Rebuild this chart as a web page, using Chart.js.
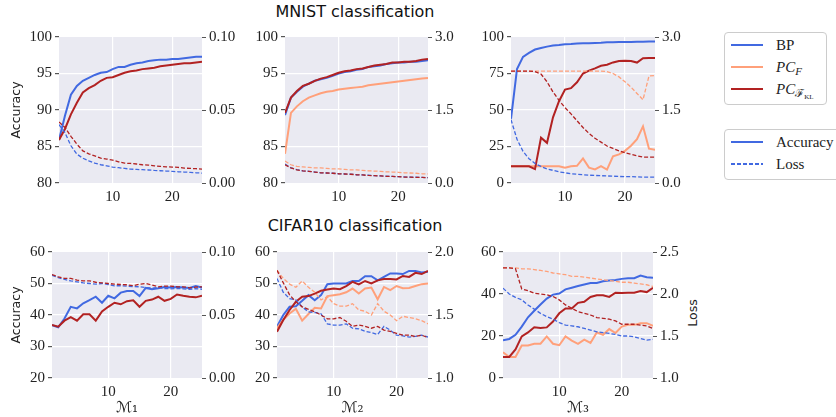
<!doctype html>
<html>
<head>
<meta charset="utf-8">
<title>MNIST / CIFAR10 classification</title>
<script src="https://cdn.jsdelivr.net/npm/chart.js@4.4.1/dist/chart.umd.min.js"></script>
<style>
  body { margin: 0; width: 836px; height: 417px; background: #fff; position: relative; overflow: hidden; }
  .plot { position: absolute; }
  .suptitle { position: absolute; font-family: "DejaVu Sans", sans-serif; font-size: 16px; line-height: 20px; color: #111; white-space: nowrap; transform: translateX(-50%); }
  .ylabel { position: absolute; font-family: "DejaVu Sans", sans-serif; font-size: 12.5px; color: #222; transform: translate(-50%, -50%) rotate(-90deg); white-space: nowrap; }
  .legend { position: absolute; border: 1px solid #ccc; border-radius: 4px; background: #fff; font-family: "Liberation Serif", serif; font-size: 15px; color: #222; }
  .row { position: absolute; left: 6px; height: 20px; white-space: nowrap; }
  .swatch { position: absolute; left: 0; width: 32px; top: 9px; height: 2px; }
  .dashed { height: 1.5px; background: repeating-linear-gradient(90deg, #4169e1 0 4px, rgba(0,0,0,0) 4px 6px); }
  .label { position: absolute; left: 45px; top: 1px; line-height: 18px; }
  .label sub { font-size: 11px; vertical-align: -3px; }
  .label sub sub { font-size: 7px; vertical-align: -2px; }
</style>
</head>
<body>
<div class="suptitle" style="left:355px;top:2px">MNIST classification</div>
<div class="suptitle" style="left:355px;top:216px">CIFAR10 classification</div>
<div class="ylabel" style="left:692px;top:313px">Loss</div>

<div class="legend" style="left:724px;top:32px;width:101px;height:71px">
  <div class="row" style="top:2px"><span class="swatch" style="background:#4169e1"></span><span class="label">BP</span></div>
  <div class="row" style="top:24px"><span class="swatch" style="background:#ffa07a"></span><span class="label"><i>PC</i><sub><i>F</i></sub></span></div>
  <div class="row" style="top:46px"><span class="swatch" style="background:#b22222"></span><span class="label"><i>PC</i><sub>ℱ<sub>KL</sub></sub></span></div>
</div>
<div class="legend" style="left:724px;top:129px;width:130px;height:49px">
  <div class="row" style="top:2px"><span class="swatch" style="background:#4169e1"></span><span class="label">Accuracy</span></div>
  <div class="row" style="top:24px"><span class="swatch dashed"></span><span class="label">Loss</span></div>
</div>

<script>
const epochs = [1, 2, 3, 4, 5, 6, 7, 8, 9, 10, 11, 12, 13, 14, 15, 16, 17, 18, 19, 20, 21, 22, 23, 24, 25];
const xTicks = [10, 20];

// MNIST, M1
const mnistAccBP1 = [85.9, 89.2, 92.1, 93.3, 94.0, 94.4, 94.8, 95.1, 95.2, 95.6, 95.9, 95.9, 96.2, 96.4, 96.5, 96.7, 96.8, 96.9, 96.9, 97.0, 97.0, 97.1, 97.2, 97.3, 97.3];
const mnistAccKL1 = [85.9, 87.4, 89.4, 91.0, 92.4, 93.0, 93.4, 94.0, 94.4, 94.5, 94.8, 95.1, 95.3, 95.4, 95.6, 95.7, 95.8, 96.0, 96.1, 96.2, 96.3, 96.4, 96.4, 96.5, 96.6];
const mnistLossBP1 = [0.040, 0.0345, 0.0255, 0.0198, 0.017, 0.0152, 0.0136, 0.0125, 0.0118, 0.0109, 0.0105, 0.0100, 0.0095, 0.0093, 0.0091, 0.0089, 0.0086, 0.0084, 0.0082, 0.0080, 0.0077, 0.0075, 0.0073, 0.0070, 0.0068];
const mnistLossKL1 = [0.0418, 0.038, 0.032, 0.0266, 0.022, 0.020, 0.0186, 0.017, 0.0164, 0.0157, 0.0145, 0.0136, 0.0134, 0.013, 0.0125, 0.0123, 0.0118, 0.0114, 0.0111, 0.0109, 0.0107, 0.0102, 0.0100, 0.0098, 0.0095];

// MNIST, M2
const mnistAccBP2 = [89.3, 91.7, 92.5, 93.2, 93.6, 94.0, 94.2, 94.4, 94.7, 95.0, 95.2, 95.3, 95.5, 95.6, 95.9, 96.0, 96.1, 96.3, 96.4, 96.5, 96.5, 96.6, 96.6, 96.7, 96.8];
const mnistAccF2 = [84.0, 89.6, 90.5, 91.2, 91.7, 92.0, 92.3, 92.5, 92.6, 92.8, 92.9, 93.0, 93.1, 93.2, 93.4, 93.5, 93.6, 93.7, 93.8, 93.9, 94.0, 94.1, 94.2, 94.3, 94.4];
const mnistAccKL2 = [89.6, 91.7, 92.6, 93.3, 93.6, 94.0, 94.3, 94.5, 94.8, 95.1, 95.3, 95.4, 95.6, 95.7, 95.9, 96.1, 96.2, 96.3, 96.5, 96.5, 96.6, 96.6, 96.7, 96.9, 97.0];
const mnistLossBP2 = [0.39, 0.31, 0.275, 0.25, 0.24, 0.225, 0.21, 0.205, 0.20, 0.19, 0.185, 0.18, 0.17, 0.165, 0.16, 0.15, 0.145, 0.14, 0.135, 0.13, 0.125, 0.12, 0.12, 0.115, 0.11];
const mnistLossF2 = [0.45, 0.375, 0.34, 0.33, 0.32, 0.31, 0.31, 0.30, 0.29, 0.29, 0.28, 0.27, 0.27, 0.26, 0.25, 0.245, 0.24, 0.23, 0.225, 0.22, 0.21, 0.205, 0.20, 0.19, 0.185];
const mnistLossKL2 = [0.375, 0.31, 0.27, 0.25, 0.24, 0.225, 0.21, 0.205, 0.20, 0.19, 0.185, 0.18, 0.17, 0.165, 0.155, 0.15, 0.145, 0.135, 0.135, 0.13, 0.12, 0.12, 0.115, 0.115, 0.11];

// MNIST, M3
const mnistAccBP3 = [44, 78, 86.4, 89.1, 91.4, 92.5, 93.4, 94.1, 94.5, 95.0, 95.2, 95.5, 95.7, 95.7, 95.9, 96.1, 96.4, 96.4, 96.6, 96.6, 96.6, 96.8, 96.8, 97.0, 97.0];
const mnistAccF3 = [11.4, 11.4, 11.4, 11.4, 11.4, 11.4, 11.4, 11.4, 11.4, 10.5, 11.4, 11.8, 16.8, 10.5, 9.3, 11.6, 9.2, 18.2, 19.6, 22, 25.5, 30, 38.8, 23.5, 22.8];
const mnistAccKL3 = [11.4, 11.4, 11.4, 11.4, 9.5, 31, 27.5, 45, 56, 64, 65, 69, 75, 77, 78.5, 80.3, 81, 82.6, 83.6, 83.8, 83.6, 82.5, 85.5, 85.6, 85.7];
const mnistLossBP3 = [1.30, 0.90, 0.65, 0.50, 0.40, 0.34, 0.29, 0.26, 0.23, 0.21, 0.19, 0.18, 0.17, 0.16, 0.155, 0.15, 0.145, 0.14, 0.135, 0.13, 0.13, 0.125, 0.12, 0.12, 0.12];
const mnistLossF3 = [2.30, 2.30, 2.30, 2.30, 2.30, 2.30, 2.30, 2.30, 2.30, 2.30, 2.30, 2.30, 2.30, 2.30, 2.30, 2.30, 2.29, 2.25, 2.18, 2.08, 1.97, 1.84, 1.71, 2.20, 2.21];
const mnistLossKL3 = [2.30, 2.30, 2.30, 2.30, 2.29, 2.24, 2.08, 1.87, 1.70, 1.55, 1.42, 1.28, 1.14, 1.02, 0.92, 0.84, 0.76, 0.71, 0.66, 0.62, 0.59, 0.56, 0.53, 0.53, 0.53];

// CIFAR10, M1
const cifarAccBP1 = [36.8, 36.1, 38.9, 42.6, 42.1, 43.7, 44.7, 45.8, 43.9, 46.1, 45.3, 47.1, 47.6, 47.6, 46.0, 48.6, 48.2, 48.5, 48.9, 48.7, 48.9, 48.7, 48.6, 49.2, 48.7];
const cifarAccKL1 = [36.8, 36.3, 38.2, 39.3, 38.2, 40.2, 40.2, 38.2, 41.1, 42.6, 43.9, 43.4, 44.4, 44.7, 42.6, 44.5, 44.9, 45.8, 44.5, 45.1, 46.5, 46.1, 45.8, 45.6, 46.1];
const cifarLossBP1 = [0.0816, 0.0797, 0.0782, 0.0771, 0.0763, 0.0755, 0.0750, 0.0745, 0.0750, 0.0742, 0.0732, 0.0732, 0.0729, 0.0726, 0.0724, 0.0718, 0.0713, 0.0718, 0.0710, 0.0708, 0.0710, 0.0708, 0.0703, 0.0710, 0.0703];
const cifarLossKL1 = [0.0821, 0.0803, 0.0790, 0.0790, 0.0776, 0.0771, 0.0771, 0.0760, 0.0755, 0.0750, 0.0745, 0.0742, 0.0740, 0.0732, 0.0745, 0.0750, 0.0737, 0.0724, 0.0729, 0.0729, 0.0724, 0.0724, 0.0716, 0.0721, 0.0724];

// CIFAR10, M2
const cifarAccBP2 = [36.3, 40, 42.6, 42.8, 44.5, 46.3, 44.7, 46.3, 49.8, 50, 50, 50, 50.8, 50.8, 52.3, 52.3, 51, 52.1, 53.2, 53.2, 53, 54, 54, 53.5, 53.7];
const cifarAccF2 = [35.8, 38.5, 40.5, 42, 38.2, 40.3, 42.3, 42.1, 46, 46.3, 46.6, 47.2, 48.4, 46.8, 48.4, 48.7, 45, 48.9, 47.9, 49.2, 48.5, 48.6, 49.2, 49.8, 50];
const cifarAccKL2 = [34.7, 38.4, 41.6, 44.2, 45.8, 46, 46.8, 47.7, 48.1, 48.4, 48.2, 49.2, 50.5, 49.7, 50.8, 50, 51, 51.4, 51.4, 51.3, 52.4, 52.1, 53.4, 53, 54];
const cifarLossBP2 = [1.79, 1.68, 1.63, 1.62, 1.565, 1.525, 1.52, 1.51, 1.43, 1.42, 1.42, 1.43, 1.395, 1.39, 1.37, 1.36, 1.345, 1.41, 1.38, 1.34, 1.335, 1.325, 1.33, 1.34, 1.325];
const cifarLossF2 = [1.855, 1.79, 1.745, 1.72, 1.77, 1.72, 1.68, 1.62, 1.645, 1.59, 1.57, 1.57, 1.59, 1.54, 1.53, 1.5, 1.59, 1.53, 1.5, 1.455, 1.49, 1.48, 1.47, 1.455, 1.43];
const cifarLossKL2 = [1.855, 1.755, 1.66, 1.605, 1.565, 1.545, 1.525, 1.5, 1.47, 1.47, 1.48, 1.45, 1.41, 1.42, 1.41, 1.395, 1.41, 1.38, 1.37, 1.355, 1.34, 1.34, 1.33, 1.34, 1.32];

// CIFAR10, M3
const cifarAccBP3 = [18, 18.6, 20.6, 24.5, 28.9, 32, 35, 37.8, 39.7, 40.2, 42.2, 43, 43.8, 44.5, 45.2, 45.2, 46.1, 46.4, 46.7, 47.2, 47.5, 47.5, 48.8, 48, 47.7];
const cifarAccF3 = [12.3, 10, 10, 15.5, 15.5, 16.3, 16.3, 19.8, 16.3, 15.6, 19.8, 17.8, 16.3, 18.3, 16.7, 21.7, 20.6, 23.3, 21.4, 24.5, 25.3, 25.3, 26.1, 26.1, 24.8];
const cifarAccKL3 = [10, 10, 13.6, 19.8, 21.7, 24.2, 23.8, 24.1, 26.9, 30.8, 33.1, 33.1, 35.8, 36.3, 38.6, 39.4, 39.4, 38.6, 40.6, 40.5, 40.6, 40.6, 41.4, 40.9, 43];
const cifarLossBP3 = [2.07, 2.0, 1.96, 1.93, 1.87, 1.82, 1.77, 1.73, 1.70, 1.66, 1.63, 1.62, 1.61, 1.59, 1.57, 1.55, 1.54, 1.53, 1.52, 1.50, 1.50, 1.49, 1.47, 1.45, 1.46];
const cifarLossF3 = [2.31, 2.31, 2.31, 2.30, 2.30, 2.29, 2.28, 2.27, 2.25, 2.24, 2.23, 2.21, 2.21, 2.20, 2.19, 2.18, 2.17, 2.16, 2.15, 2.14, 2.14, 2.13, 2.12, 2.11, 2.09];
const cifarLossKL3 = [2.31, 2.31, 2.30, 2.06, 2.04, 2.01, 2.0, 1.99, 1.97, 1.93, 1.87, 1.83, 1.79, 1.77, 1.75, 1.72, 1.71, 1.70, 1.68, 1.64, 1.64, 1.64, 1.63, 1.62, 1.59];

// axis tick values
const accTicksMnist = [80, 85, 90, 95, 100];
const accTicksMnist3 = [0, 25, 50, 75, 100];
const accTicksCifar = [20, 30, 40, 50, 60];
const accTicksCifar3 = [0, 20, 40, 60];
const lossTicksSmall = [0, 0.05, 0.10];
const lossTicksMnist = [0, 1.5, 3.0];
const lossTicksCifar2 = [1.0, 1.5, 2.0];
const lossTicksCifar3 = [1.0, 1.5, 2.0, 2.5];

const BLUE = '#4169e1', SALMON = '#ffa07a', RED = '#b22222';
const SERIF = "'Liberation Serif', serif";
const SANS = "'DejaVu Sans', sans-serif";

// seaborn-style grey plot background
const plotBg = {
  id: 'plotBg',
  beforeDraw(chart) {
    const a = chart.chartArea, ctx = chart.ctx;
    ctx.save();
    ctx.fillStyle = '#eaeaf2';
    ctx.fillRect(a.left, a.top, a.right - a.left, a.bottom - a.top);
    ctx.restore();
  }
};

function line(data, color, axis, dashed, order) {
  return {
    data, borderColor: color, backgroundColor: color, yAxisID: axis,
    borderWidth: dashed ? 1.3 : 2, borderDash: dashed ? [4, 2] : [],
    pointRadius: 0, tension: 0, fill: false, order
  };
}

function yAxis(pos, ticks, decimals, width, title) {
  const min = ticks[0], max = ticks[ticks.length - 1];
  return {
    type: 'linear', position: pos, min, max,
    afterBuildTicks: s => { s.ticks = ticks.map(v => ({ value: v })); },
    afterFit: s => { s.width = width; },
    border: { display: false },
    grid: pos === 'left'
      ? { color: c => (c.tick && (c.tick.value === min || c.tick.value === max)) ? 'rgba(0,0,0,0)' : '#fff', lineWidth: 1.2, tickColor: '#555', tickLength: 4 }
      : { drawOnChartArea: false, tickColor: '#555', tickLength: 4 },
    ticks: { color: '#222', font: { family: SERIF, size: 15 }, padding: 3, callback: v => Number(v).toFixed(decimals) },
    title: title ? { display: true, text: title, color: '#222', font: { family: SANS, size: 12.5 }, padding: { top: 9, bottom: 0 } } : { display: false }
  };
}

function makePlot(box, padTop, yLeftW, yRightW, xH, accSeries, lossSeries, accTicks, accDec, lossTicks, lossDec, ylabel, xlabel) {
  const wrap = document.createElement('div');
  wrap.className = 'plot';
  wrap.style.left = box[0] + 'px';
  wrap.style.top = box[1] + 'px';
  const canvas = document.createElement('canvas');
  canvas.width = box[2];
  canvas.height = box[3];
  wrap.appendChild(canvas);
  document.body.appendChild(wrap);

  const colors = [BLUE, SALMON, RED];
  const datasets = [];
  accSeries.forEach((d, i) => { if (d) datasets.push(line(d, colors[i], 'yAcc', false, 6 - i)); });
  lossSeries.forEach((d, i) => { if (d) datasets.push(line(d, colors[i], 'yLoss', true, 3 - i)); });

  new Chart(canvas, {
    type: 'line',
    data: { labels: epochs, datasets },
    options: {
      responsive: false,
      animation: false,
      events: [],
      layout: { autoPadding: false, padding: { top: padTop, left: 0, right: 0, bottom: 0 } },
      plugins: { legend: { display: false }, tooltip: { enabled: false } },
      scales: {
        x: {
          type: 'linear', min: 1, max: 25,
          afterBuildTicks: s => { s.ticks = xTicks.map(v => ({ value: v })); },
          afterFit: s => { s.height = xH; },
          border: { display: false },
          grid: { color: '#fff', lineWidth: 1.2, drawTicks: false },
          ticks: { color: '#222', font: { family: SERIF, size: 15 }, padding: 5, maxRotation: 0 },
          title: xlabel ? { display: true, text: xlabel, color: '#222', font: { family: "'DejaVu Serif', 'DejaVu Sans', serif", size: 15 }, padding: { top: 0, bottom: 0 } } : { display: false }
        },
        yAcc: yAxis('left', accTicks, accDec, yLeftW, ylabel),
        yLoss: yAxis('right', lossTicks, lossDec, yRightW, null)
      }
    },
    plugins: [plotBg]
  });
}

// top row: MNIST
makePlot([0, 25, 250, 180], 12, 59, 48, 22,
  [mnistAccBP1, null, mnistAccKL1], [mnistLossBP1, null, mnistLossKL1],
  accTicksMnist, 0, lossTicksSmall, 2, 'Accuracy', null);
makePlot([240, 25, 240, 180], 12, 45, 52, 22,
  [mnistAccBP2, mnistAccF2, mnistAccKL2], [mnistLossBP2, mnistLossF2, mnistLossKL2],
  accTicksMnist, 0, lossTicksMnist, 1, null, null);
makePlot([470, 25, 230, 180], 12, 41, 45, 22,
  [mnistAccBP3, mnistAccF3, mnistAccKL3], [mnistLossBP3, mnistLossF3, mnistLossKL3],
  accTicksMnist3, 0, lossTicksMnist, 1, null, null);

// bottom row: CIFAR10
makePlot([0, 240, 250, 177], 10, 52, 48, 39,
  [cifarAccBP1, null, cifarAccKL1], [cifarLossBP1, null, cifarLossKL1],
  accTicksCifar, 0, lossTicksSmall, 2, 'Accuracy', 'ℳ₁');
makePlot([240, 240, 240, 177], 10, 37, 52, 39,
  [cifarAccBP2, cifarAccF2, cifarAccKL2], [cifarLossBP2, cifarLossF2, cifarLossKL2],
  accTicksCifar, 0, lossTicksCifar2, 1, null, 'ℳ₂');
makePlot([470, 240, 236, 177], 10, 33, 53, 39,
  [cifarAccBP3, cifarAccF3, cifarAccKL3], [cifarLossBP3, cifarLossF3, cifarLossKL3],
  accTicksCifar3, 0, lossTicksCifar3, 1, null, 'ℳ₃');
</script>
</body>
</html>
